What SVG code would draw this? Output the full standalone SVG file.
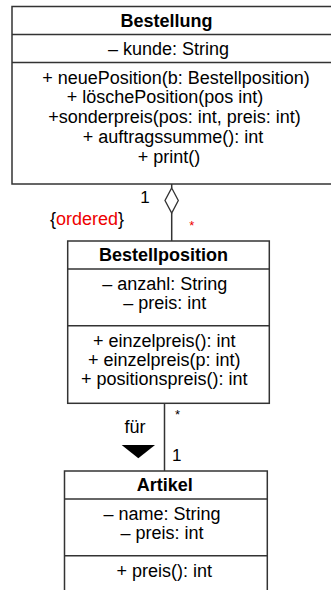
<svg xmlns="http://www.w3.org/2000/svg" width="331" height="590" viewBox="0 0 331 590">
<style>
.box{fill:#fff;stroke:#333;stroke-width:1.5}
.ln{stroke:#333;stroke-width:1.5;fill:none}
text{font-family:"Liberation Sans",Arial,sans-serif;font-size:18px;fill:#000}
.t{font-weight:bold;text-anchor:middle}
.m{text-anchor:middle}
.red{fill:#e00}
</style>
<rect width="331" height="590" fill="#fff"/>
<g id="connectors">
<line class="ln" x1="171.7" y1="184" x2="171.7" y2="188"/>
<polygon points="171.7,188 178.3,200.5 171.7,213 165,200.5" fill="#fff" stroke="#333" stroke-width="1.3"/>
<line class="ln" x1="171.7" y1="213" x2="171.7" y2="241"/>
<text x="145" y="202.7" class="m" style="font-size:17px">1</text>
<text x="50" y="225">{<tspan class="red">ordered</tspan>}</text>
<text x="191.7" y="230" class="m red" style="font-size:13px">*</text>
<line class="ln" x1="164.5" y1="403" x2="164.5" y2="471"/>
<text x="177.5" y="419" class="m" style="font-size:13px">*</text>
<text x="176.7" y="460.7" class="m" style="font-size:17px">1</text>
<text x="135" y="433.3" class="m">für</text>
<polygon points="121.7,445 155,445 138.3,458.3" fill="#000"/>
</g>
<g id="Bestellung">
<rect class="box" x="12" y="6.5" width="330" height="177.5"/>
<line class="ln" x1="12" y1="34.5" x2="331" y2="34.5"/>
<line class="ln" x1="12" y1="62.5" x2="331" y2="62.5"/>
<text x="166.5" y="27.3" class="t">Bestellung</text>
<text x="168.5" y="55" class="m">– kunde: String</text>
<text x="176" y="83.5" class="m">+ neuePosition(b: Bestellposition)</text>
<text x="165" y="103.3" class="m">+ löschePosition(pos int)</text>
<text x="174.5" y="123.1" class="m">+sonderpreis(pos: int, preis: int)</text>
<text x="173" y="142.9" class="m">+ auftragssumme(): int</text>
<text x="169" y="162.7" class="m">+ print()</text>
</g>
<g id="Bestellposition">
<rect class="box" x="67.7" y="241" width="201.6" height="162.3"/>
<line class="ln" x1="67.7" y1="269" x2="269.3" y2="269"/>
<line class="ln" x1="67.7" y1="325.7" x2="269.3" y2="325.7"/>
<text x="163.5" y="261" class="t">Bestellposition</text>
<text x="164.7" y="290" class="m">– anzahl: String</text>
<text x="164.7" y="309.3" class="m">– preis: int</text>
<text x="164.3" y="346.7" class="m">+ einzelpreis(): int</text>
<text x="164.3" y="365.7" class="m">+ einzelpreis(p: int)</text>
<text x="164.3" y="384.7" class="m">+ positionspreis(): int</text>
</g>
<g id="Artikel">
<rect class="box" x="64.5" y="471" width="202.8" height="130"/>
<line class="ln" x1="64.5" y1="499" x2="267.3" y2="499"/>
<line class="ln" x1="64.5" y1="555.7" x2="267.3" y2="555.7"/>
<text x="164.7" y="490.7" class="t">Artikel</text>
<text x="162" y="519.5" class="m">– name: String</text>
<text x="162" y="538.5" class="m">– preis: int</text>
<text x="164.3" y="576.7" class="m">+ preis(): int</text>
</g>
</svg>
